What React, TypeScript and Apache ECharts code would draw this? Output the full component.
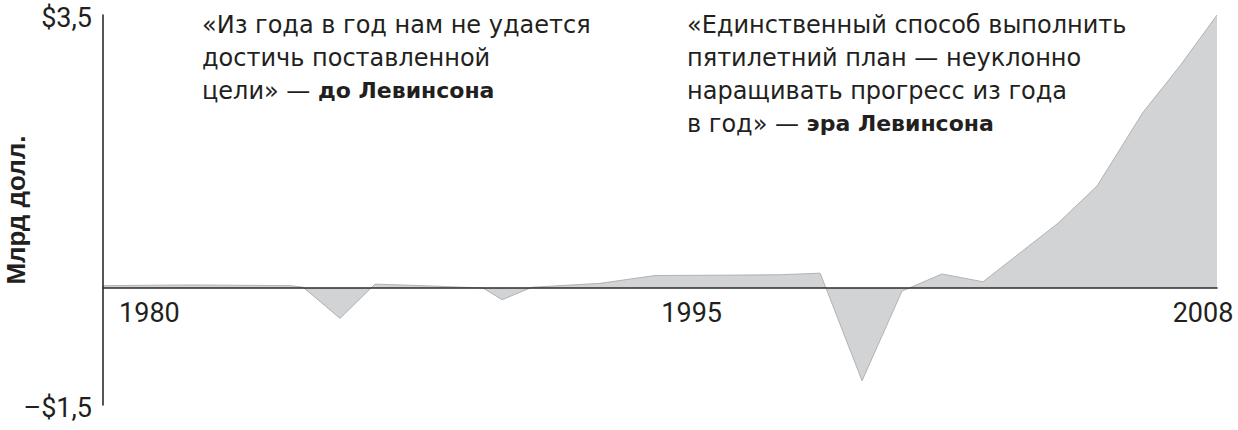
import React, { useEffect, useRef } from "react";
import * as echarts from "echarts";

// Net result, billions of dollars (x = year position)
const years = [1979, 1981.3, 1983.9, 1984.21, 1985.17, 1986.08, 1987.33, 1988.89, 1989.39, 1990.17, 1991.94, 1993.37, 1995.24, 1996.62, 1997.67, 1998.76, 1999.8, 2000.84, 2001.91, 2003.86, 2004.88, 2006.07, 2007.04, 2008];
const values = [0.03, 0.04, 0.03, 0.01, -0.39, 0.05, 0.03, 0.0, -0.15, 0.01, 0.06, 0.16, 0.165, 0.17, 0.19, -1.19, -0.04, 0.18, 0.08, 0.83, 1.31, 2.25, 2.85, 3.5];

const xTickLabels = [1980, 1995, 2008];
const yTickValues = [-1.5, 3.5];
const yTickLabels = ["–$1,5", "$3,5"];
const yTitle = "Млрд долл.";

const quoteBefore = "«Из года в год нам не удается\nдостичь поставленной\nцели» — ";
const quoteBeforeBold = "до Левинсона";
const quoteAfter = "«Единственный способ выполнить\nпятилетний план — неуклонно\nнаращивать прогресс из года\nв год» — ";
const quoteAfterBold = "эра Левинсона";

const TEXT = "#231f20";
const FONT = "Roboto";
const QFONT = "DejaVu Sans";

export default function App() {
  const ref = useRef<HTMLDivElement>(null);
  useEffect(() => {
    document.body.style.margin = "0";
    const chart = echarts.init(ref.current!, null, { renderer: "svg" });
    const quoteStyle = (text: string) => ({
      text,
      fontFamily: QFONT,
      fontSize: 24,
      lineHeight: 33,
      fill: TEXT,
      rich: { b: { fontFamily: QFONT, fontSize: 22, fontWeight: "bold", lineHeight: 33, fill: TEXT } },
    });
    chart.setOption({
      animation: false,
      backgroundColor: "#ffffff",
      grid: { left: 103, right: 21, top: 15, bottom: 25, containLabel: false, outerBoundsMode: "none" },
      xAxis: {
        type: "value",
        min: 1979,
        max: 2008,
        z: 10,
        axisLine: { onZero: true, lineStyle: { color: "#2b2b2b", width: 1.6 } },
        axisTick: { show: false },
        splitLine: { show: false },
        axisLabel: {
          customValues: xTickLabels,
          margin: -106,
          color: TEXT,
          fontFamily: FONT,
          fontSize: 27,
          formatter: (v: number) => `{y${v}|${v}}`,
          rich: {
            y1980: { fontFamily: FONT, fontSize: 27, color: TEXT, padding: [0, 0, 0, 16] },
            y1995: { fontFamily: FONT, fontSize: 27, color: TEXT, padding: [0, 52, 0, 0] },
            y2008: { fontFamily: FONT, fontSize: 27, color: TEXT, padding: [0, 28, 0, 0] },
          },
        },
      },
      yAxis: {
        type: "value",
        min: -1.5,
        max: 3.5,
        z: 10,
        name: yTitle,
        nameLocation: "middle",
        nameRotate: 90,
        nameGap: 74,
        nameMoveOverlap: false,
        nameTextStyle: { fontFamily: "Liberation Sans", fontWeight: "bold", fontSize: 26, lineHeight: 26, color: TEXT },
        axisLine: { show: true, onZero: false, lineStyle: { color: "#2b2b2b", width: 1.6 } },
        axisTick: { show: false },
        splitLine: { show: false },
        axisLabel: {
          customValues: yTickValues,
          margin: 11,
          color: TEXT,
          fontFamily: FONT,
          fontSize: 27,
          formatter: (v: number) => `{a|${yTickLabels[yTickValues.indexOf(v)]}}`,
          rich: { a: { fontFamily: FONT, fontSize: 27, color: TEXT, padding: [6, 0, 0, 0] } },
        },
      },
      series: [
        {
          type: "line",
          data: years.map((y, i) => [y, values[i]]),
          showSymbol: false,
          symbol: "none",
          lineStyle: { color: "#a3a5a8", width: 0.8 },
          areaStyle: { color: "#d1d3d4", opacity: 1 },
          z: 2,
        },
      ],
      graphic: [
        {
          type: "text",
          left: 202,
          top: 8,
          style: quoteStyle(quoteBefore + `{b|${quoteBeforeBold}}`),
        },
        {
          type: "text",
          left: 687,
          top: 8,
          style: quoteStyle(quoteAfter + `{b|${quoteAfterBold}}`),
        },
      ],
    });
    return () => chart.dispose();
  }, []);
  return <div ref={ref} style={{ width: 1238, height: 430 }} />;
}
